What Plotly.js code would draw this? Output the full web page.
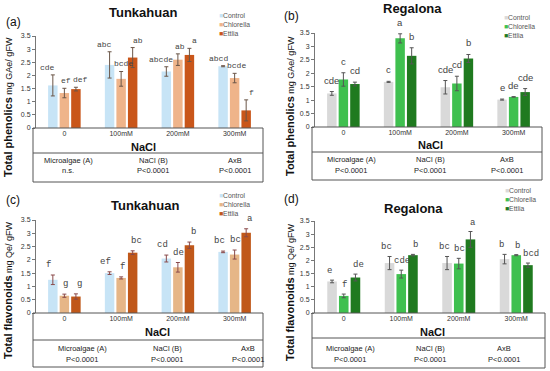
<!DOCTYPE html>
<html>
<head>
<meta charset="utf-8">
<script src="https://cdn.plot.ly/plotly-3.0.1.min.js"></script>
<style>html,body{margin:0;padding:0;background:#fff;}#chart{width:550px;height:371px;}</style>
</head>
<body>
<div id="chart"></div>
<script>
// ---------- DATA ----------
const categories = ['0', '100mM', '200mM', '300mM'];
const seriesNames = ['Control', 'Chlorella', 'Ettlia'];
const tableHeads = ['Microalgae (A)', 'NaCl (B)', 'AxB'];

// (a) Tunkahuan – total phenolics
const aMeans = [[1.62, 2.40, 2.15, 2.35], [1.33, 1.87, 2.60, 1.90], [1.48, 2.68, 2.78, 0.67]];
const aErrors = [[0.40, 0.50, 0.18, 0.02], [0.18, 0.28, 0.22, 0.18], [0.07, 0.38, 0.25, 0.40]];
const aLetters = [['cde', 'abc', 'abcde', 'abcd'], ['ef', 'bcde', 'ab', 'bcde'], ['def', 'ab', 'a', 'f']];
const aPvalues = ['n.s.', 'P<0.0001', 'P<0.0001'];

// (b) Regalona – total phenolics
const bMeans = [[1.25, 1.68, 1.48, 1.02], [1.77, 3.30, 1.62, 1.12], [1.60, 2.65, 2.55, 1.30]];
const bErrors = [[0.07, 0.02, 0.25, 0.02], [0.25, 0.17, 0.27, 0.01], [0.07, 0.30, 0.15, 0.13]];
const bLetters = [['cde', 'c', 'cde', 'e'], ['c', 'a', 'cd', 'de'], ['cd', 'b', 'b', 'cde']];
const bPvalues = ['P<0.0001', 'P<0.0001', 'P<0.0001'];

// (c) Tunkahuan – total flavonoids
const cMeans = [[1.25, 1.50, 2.05, 2.30], [0.65, 1.32, 1.72, 2.20], [0.62, 2.27, 2.55, 3.02]];
const cErrors = [[0.18, 0.05, 0.13, 0.03], [0.06, 0.04, 0.18, 0.17], [0.10, 0.07, 0.12, 0.15]];
const cLetters = [['f', 'ef', 'cd', 'bc'], ['g', 'f', 'de', 'bc'], ['g', 'bc', 'b', 'a']];
const cPvalues = ['P<0.0001', 'P<0.0001', 'P<0.0001'];

// (d) Regalona – total flavonoids
const dMeans = [[1.20, 1.90, 1.90, 2.05], [0.65, 1.48, 1.88, 2.20], [1.35, 2.20, 2.80, 1.82]];
const dErrors = [[0.05, 0.25, 0.25, 0.18], [0.07, 0.15, 0.20, 0.02], [0.13, 0.03, 0.30, 0.08]];
const dLetters = [['e', 'bc', 'bc', 'b'], ['f', 'cde', 'bc', 'b'], ['de', 'b', 'a', 'bcd']];
const dPvalues = ['P<0.0001', 'P<0.0001', 'P<0.0001'];

// ---------- LAYOUT HELPERS ----------
const W = 550, H = 371;
const px = x => x / W;
const py = y => 1 - y / H;
const BARGAP = 0.39;

const tunColors = ['#c7e4f6', '#efb48a', '#c9561a'];
const regColors = ['#d9d9d9', '#3fc04f', '#1f7a1f'];

const panels = [
  { id: '', label: '(a)', title: 'Tunkahuan', means: aMeans, errs: aErrors, letters: aLetters, pv: aPvalues,
    colors: tunColors, errColor: '#6b5648', ytitle: ['Total phenolics', ' mg GAe/ gFW'],
    xdom: [36, 263], ydom: [36, 128], box: [33, 263, 153, 182], titlePos: [143, 12], labelPos: [4, 22],
    legPos: [217, 24], ytPos: [8, 107], naclPos: [143, 147], tableX: [68, 153, 235], tableY: [160, 171],
    letterFont: '"Liberation Mono", "Courier New", monospace', letterSize: 8, letterShift: 1, letterX: [-5, 2, 5] },
  { id: '2', label: '(b)', title: 'Regalona', means: bMeans, errs: bErrors, letters: bLetters, pv: bPvalues,
    colors: regColors, errColor: '#555', ytitle: ['Total phenolics', ' mg GAe/ gFW'],
    xdom: [315, 542], ydom: [33, 127], box: [312, 542, 152, 180], titlePos: [412, 9], labelPos: [282, 16],
    legPos: [502, 26], ytPos: [290, 106], naclPos: [430, 145], tableX: [351, 430, 507], tableY: [159, 170],
    letterFont: '"Liberation Sans", Arial, sans-serif', letterSize: 9.5, letterShift: 4, letterX: [0, 0, 0] },
  { id: '3', label: '(c)', title: 'Tunkahuan', means: cMeans, errs: cErrors, letters: cLetters, pv: cPvalues,
    colors: ['#c7e4f6', '#e6b687', '#c0581a'], errColor: '#8a4a4a', ytitle: ['Total flavonoids', ' mg Qe/ gFW'],
    xdom: [36, 263], ydom: [220, 313], box: [33, 263, 340, 367], titlePos: [145, 205], labelPos: [4, 200],
    legPos: [217, 204], ytPos: [8, 290], naclPos: [157, 332], tableX: [82, 167, 248], tableY: [348, 359],
    letterFont: '"Liberation Mono", "Courier New", monospace', letterSize: 9, letterShift: 3, letterX: [-4, 1, 4] },
  { id: '4', label: '(d)', title: 'Regalona', means: dMeans, errs: dErrors, letters: dLetters, pv: dPvalues,
    colors: regColors, errColor: '#555', ytitle: ['Total flavonoids', ' mg Qe/ gFW'],
    xdom: [315, 545], ydom: [221, 313], box: [312, 545, 338, 368], titlePos: [413, 208], labelPos: [282, 199],
    legPos: [503, 200], ytPos: [290, 292], naclPos: [432, 332], tableX: [350, 430, 504], tableY: [348, 359],
    letterFont: '"Liberation Mono", "Courier New", monospace', letterSize: 9, letterShift: 2, letterX: [-3, 1, 3] }
];

const traces = [];
const annotations = [];
const shapes = [];
const layout = {
  width: W, height: H,
  margin: { l: 0, r: 0, t: 0, b: 0 },
  paper_bgcolor: '#fff', plot_bgcolor: '#fff',
  showlegend: false,
  barmode: 'group', bargap: BARGAP, bargroupgap: 0.18,
  font: { family: 'Liberation Sans, Arial, sans-serif', color: '#222' },
  annotations, shapes
};

panels.forEach(p => {
  const xa = 'x' + p.id, ya = 'y' + p.id;
  const xk = 'xaxis' + p.id, yk = 'yaxis' + p.id;
  layout[xk] = {
    domain: [px(p.xdom[0]), px(p.xdom[1])], anchor: ya, type: 'category',
    showline: false, ticks: '', showgrid: false, zeroline: false,
    tickfont: { size: 7, color: '#333' }, fixedrange: true
  };
  layout[yk] = {
    domain: [py(p.ydom[1]), py(p.ydom[0])], anchor: xa, range: [0, 3.5], dtick: 0.5,
    showline: true, linecolor: '#777', linewidth: 1, ticks: 'outside', ticklen: 3, tickcolor: '#777',
    showgrid: false, zeroline: false, tickfont: { size: 7, color: '#333' }, fixedrange: true
  };

  const slot = (1 - BARGAP) / 3;
  const legendLines = [];
  seriesNames.forEach((name, j) => {
    traces.push({
      type: 'bar', name: name, x: categories, y: p.means[j], xaxis: xa, yaxis: ya,
      marker: { color: p.colors[j], line: { width: 0 } },
      error_y: { type: 'data', array: p.errs[j], visible: true, color: p.errColor, thickness: 1, width: 2 },
      hoverinfo: 'skip'
    });
    categories.forEach((c, i) => {
      annotations.push({
        xref: xa, yref: ya, x: i + (j - 1) * slot, y: p.means[j][i] + p.errs[j][i],
        text: p.letters[j][i], showarrow: false, yanchor: 'bottom', yshift: p.letterShift, xshift: p.letterX[j],
        font: { family: p.letterFont, size: p.letterSize, color: '#444' }
      });
    });
    legendLines.push('<span style="color:' + p.colors[j] + '">■</span>' + name);
  });
  // legend block
  annotations.push({
    xref: 'paper', yref: 'paper', x: px(p.legPos[0]), y: py(p.legPos[1]),
    xanchor: 'left', yanchor: 'middle', align: 'left', showarrow: false,
    text: legendLines.join('<br>'), font: { size: 6.8, color: '#555' }
  });

  // titles and labels
  annotations.push({ xref: 'paper', yref: 'paper', x: px(p.titlePos[0]), y: py(p.titlePos[1]),
    text: '<b>' + p.title + '</b>', showarrow: false, xanchor: 'center', yanchor: 'middle',
    font: { size: 13, color: '#111' } });
  annotations.push({ xref: 'paper', yref: 'paper', x: px(p.labelPos[0]), y: py(p.labelPos[1]),
    text: p.label, showarrow: false, xanchor: 'left', yanchor: 'middle',
    font: { size: 12, color: '#111' } });
  annotations.push({ xref: 'paper', yref: 'paper', x: px(p.ytPos[0]), y: py(p.ytPos[1]),
    text: '<b>' + p.ytitle[0] + '</b><span style="font-size:9px">' + p.ytitle[1] + '</span>',
    textangle: -90, showarrow: false, xanchor: 'center', yanchor: 'middle',
    font: { size: 11, color: '#111' } });
  annotations.push({ xref: 'paper', yref: 'paper', x: px(p.naclPos[0]), y: py(p.naclPos[1]),
    text: '<b>NaCl</b>', showarrow: false, xanchor: 'center', yanchor: 'middle',
    font: { size: 11, color: '#111' } });
  tableHeads.forEach((h, k) => {
    annotations.push({ xref: 'paper', yref: 'paper', x: px(p.tableX[k]), y: py(p.tableY[0]),
      text: h, showarrow: false, xanchor: 'center', yanchor: 'middle', font: { size: 7.5, color: '#222' } });
    annotations.push({ xref: 'paper', yref: 'paper', x: px(p.tableX[k]), y: py(p.tableY[1]),
      text: p.pv[k], showarrow: false, xanchor: 'center', yanchor: 'middle', font: { size: 7.5, color: '#222' } });
  });

  // table box below the axis
  const [bl, br, bmid, bbot] = p.box;
  const ln = { color: '#555', width: 1 };
  shapes.push({ type: 'rect', xref: 'paper', yref: 'paper', x0: px(bl), x1: px(br), y0: py(bbot), y1: py(p.ydom[1]), line: ln });
  shapes.push({ type: 'line', xref: 'paper', yref: 'paper', x0: px(bl), x1: px(br), y0: py(bmid), y1: py(bmid), line: ln });
});

Plotly.newPlot('chart', traces, layout, { staticPlot: true, displayModeBar: false });
</script>
</body>
</html>
